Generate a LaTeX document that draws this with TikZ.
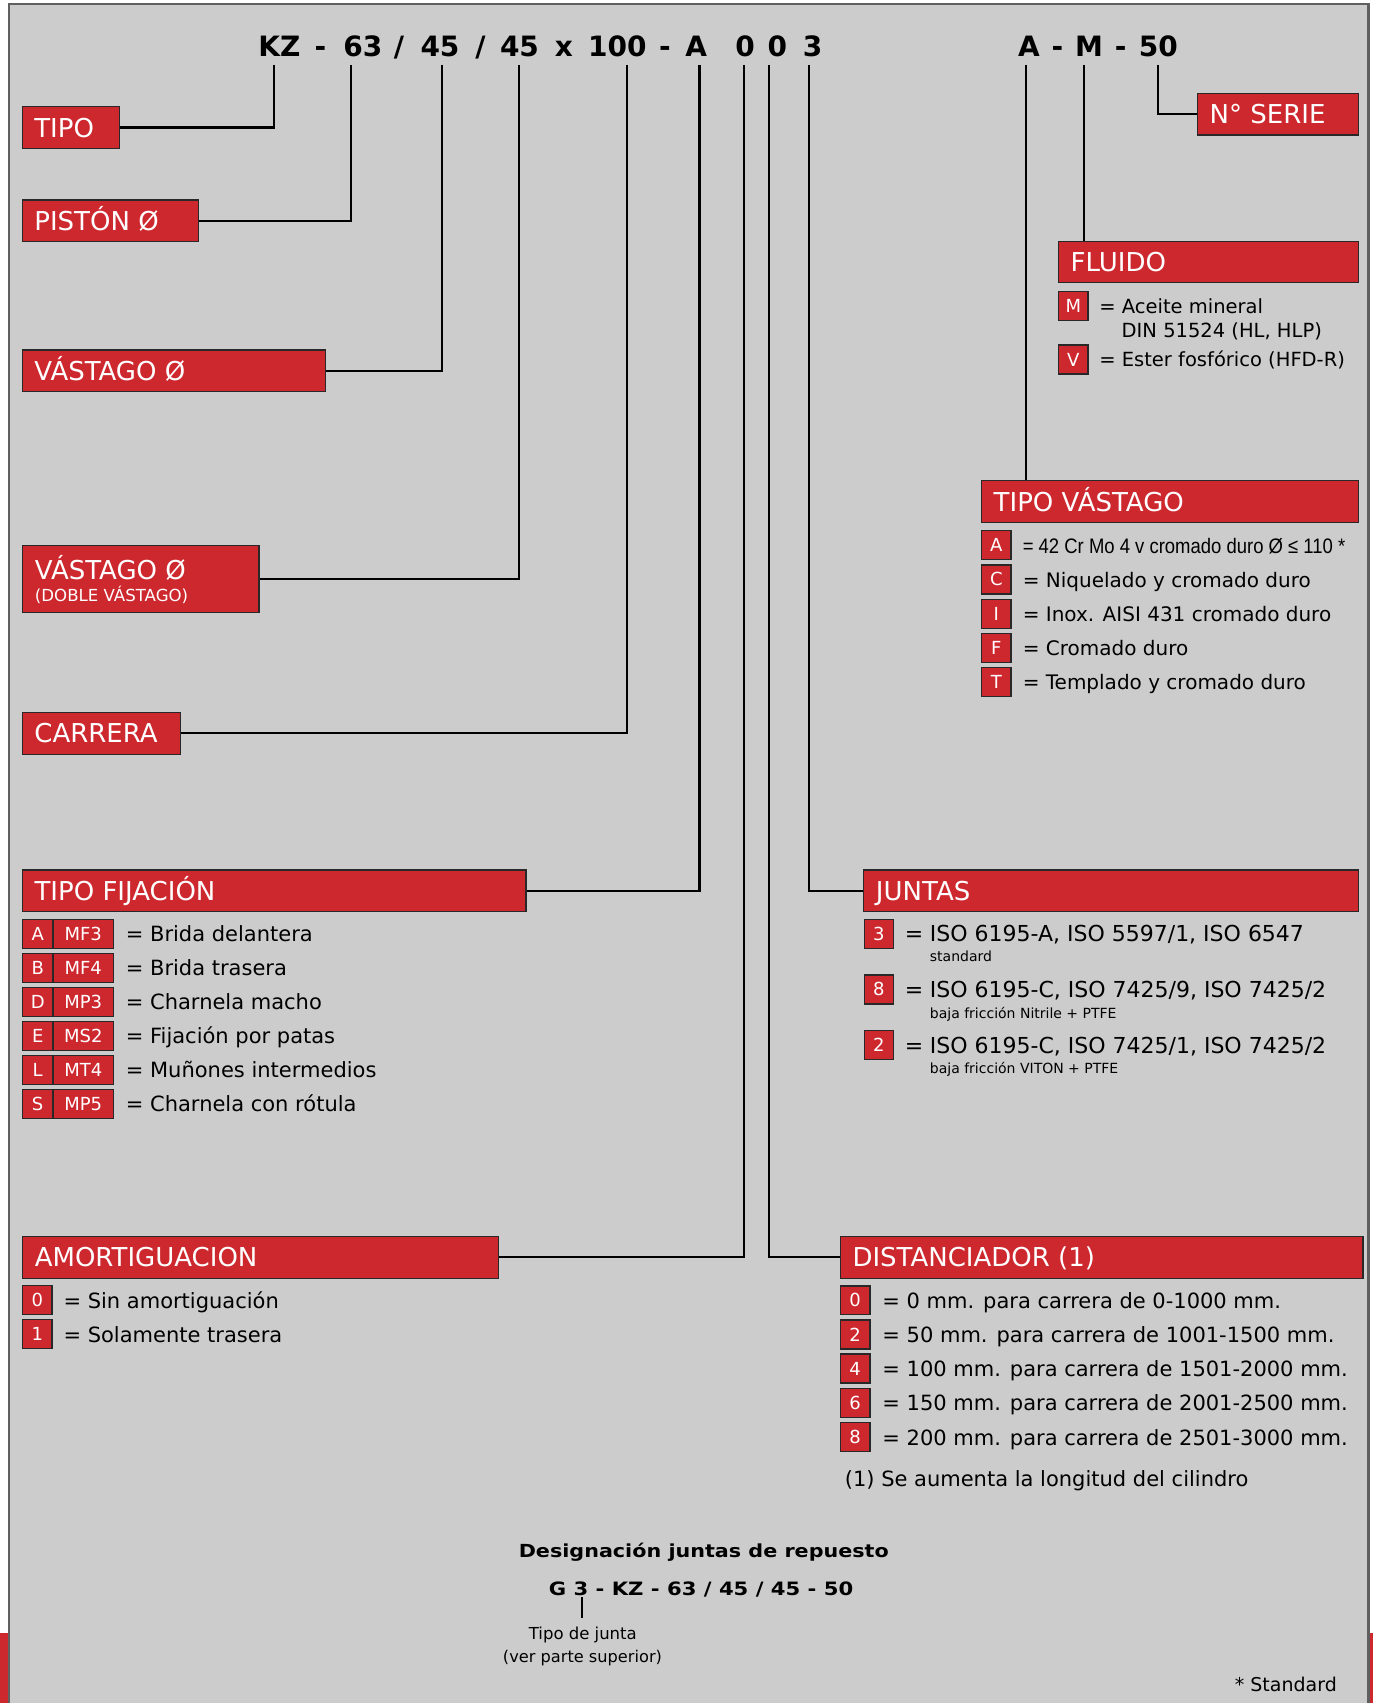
\documentclass[tikz,border=0pt]{standalone}
\usepackage{fontspec}
\setmainfont{DejaVu Sans}
\newfontfamily\libfont{Liberation Sans}[FakeStretch=0.88]
\newfontfamily\widefont{DejaVu Sans}[FakeStretch=1.15]
\usetikzlibrary{fit}
\definecolor{kred}{RGB}{206,40,47}
\definecolor{bgg}{RGB}{204,204,204}
\definecolor{framec}{RGB}{95,95,95}
\definecolor{edgec}{RGB}{40,40,40}
\newcommand\fs[1]{\fontsize{#1}{#1}\selectfont}
\begin{document}
\begin{tikzpicture}[x=1.0862pt,y=-1.0862pt,
  conn/.style={draw=black,line width=2.2pt},
  redbox/.style={draw=edgec,fill=kred,line width=1.2pt,inner sep=0pt},
  lbl/.style={text=white,font=\fs{26pt},inner sep=0pt,anchor=base west},
  key/.style={draw=edgec,fill=kred,line width=1.2pt,text=white,font=\fs{18pt},minimum width=29.5pt,minimum height=29pt,inner sep=0pt},
  keyw/.style={key,minimum width=60.7pt},
  itxt/.style={font=\fs{21pt},inner sep=0pt,anchor=base west},
  tok/.style={font=\fs{28pt}\bfseries,inner sep=0pt,anchor=base},
]
\useasboundingbox (0,0) rectangle (1264,1568);
% page and frame
\fill[white] (0,0) rectangle (1264,1568);
\fill[kred] (0,1503.4) rectangle (1264,1568);
\fill[bgg] (8.3,3.7) rectangle (1260,1568);
\draw[framec,line width=2.5pt] (8.3,1575) -- (8.3,3.7) -- (1260,3.7) -- (1260,1575);

% header tokens
\node[tok] (h1) at (257.3,51.6) {KZ};
\node[tok] (h2) at (295,51.6) {-};
\node[tok] (h3) at (334.2,51.6) {63};
\node[tok] (h4) at (367.3,51.6) {/};
\node[tok] (h5) at (405.1,51.6) {45};
\node[tok] (h6) at (442.4,51.6) {/};
\node[tok] (h7) at (478.3,51.6) {45};
\node[tok] (h8) at (519.2,51.6) {x};
\node[tok] (h9) at (568.5,51.6) {100};
\node[tok] (h10) at (612.2,51.6) {-};
\node[tok] (h11) at (641,51.6) {A};
\node[tok] (h12) at (686,51.6) {0};
\node[tok] (h13) at (715.8,51.6) {0};
\node[tok] (h14) at (748.3,51.6) {3};
\node[tok] (h15) at (947.3,51.6) {A};
\node[tok] (h16) at (973.5,51.6) {-};
\node[tok] (h17) at (1002.6,51.6) {M};
\node[tok] (h18) at (1031.9,51.6) {-};
\node[tok] (h19) at (1066.6,51.6) {50};

% line tops
\coordinate (tKZ) at (252.4,59.8);
\coordinate (t63) at (323,59.8);
\coordinate (t45a) at (406.9,59.8);
\coordinate (t45b) at (478,59.8);
\coordinate (t100) at (577.4,59.8);
\coordinate (tA) at (644,59.8);
\coordinate (t0a) at (685.3,59.8);
\coordinate (t0b) at (708.3,59.8);
\coordinate (t3) at (745.1,59.8);
\coordinate (tAv) at (944.5,59.8);
\coordinate (tM) at (998,59.8);
\coordinate (t50) at (1066,59.8);

% label boxes
\node[redbox,fit={(20.5,98.2) (109.7,136.6)}] (tipo) {};
\node[redbox,fit={(20.5,184.1) (182.9,222.5)}] (piston) {};
\node[redbox,fit={(20.5,322.2) (300,360.6)}] (vast) {};
\node[redbox,fit={(20.5,502.4) (238.4,564)}] (vastd) {};
\node[redbox,fit={(20.5,656) (166.5,694.5)}] (carrera) {};
\node[redbox,fit={(20.7,801) (484.3,839.3)}] (fij) {};
\node[redbox,fit={(20.9,1138.5) (458.8,1176.9)}] (amort) {};
\node[redbox,fit={(1102.6,85.9) (1251,124.3)}] (serie) {};
\node[redbox,fit={(974.7,222.5) (1251,260.2)}] (fluido) {};
\node[redbox,fit={(903.8,442.5) (1251,481.2)}] (tipov) {};
\node[redbox,fit={(795.4,801) (1251,839.3)}] (juntas) {};
\node[redbox,fit={(773.8,1138.5) (1255,1176.9)}] (dist) {};

\node[lbl] (tipoT) at ([xshift=12.5pt,yshift=-9.5pt]tipo.west) {TIPO};
\node[lbl] (pistonT) at ([xshift=12.5pt,yshift=-9.5pt]piston.west) {PISTÓN Ø};
\node[lbl] (vastT) at ([xshift=12.5pt,yshift=-9.5pt]vast.west) {VÁSTAGO Ø};
\node[lbl] (vastdT) at (32,534) {VÁSTAGO Ø};
\node[lbl,font=\fs{16.6pt}] (vastdS) at (32,553.5) {(DOBLE VÁSTAGO)};
\node[lbl] (carreraT) at ([xshift=12.5pt,yshift=-9.5pt]carrera.west) {CARRERA};
\node[lbl] (fijT) at ([xshift=12.5pt,yshift=-9.5pt]fij.west) {TIPO FIJACIÓN};
\node[lbl] (amortT) at ([xshift=12.5pt,yshift=-9.5pt]amort.west) {AMORTIGUACION};
\node[lbl] (serieT) at ([xshift=12.5pt,yshift=-9.5pt]serie.west) {N° SERIE};
\node[lbl] (fluidoT) at ([xshift=12.5pt,yshift=-9.5pt]fluido.west) {FLUIDO};
\node[lbl] (tipovT) at ([xshift=12.5pt,yshift=-9.5pt]tipov.west) {TIPO VÁSTAGO};
\node[lbl] (juntasT) at ([xshift=12.5pt,yshift=-9.5pt]juntas.west) {JUNTAS};
\node[lbl] (distT) at ([xshift=12.5pt,yshift=-9.5pt]dist.west) {DISTANCIADOR (1)};

% connectors
\draw[conn] (tKZ) |- (tipo.east);
\draw[conn] (t63) |- (piston.east);
\draw[conn] (t45a) |- (vast.east);
\draw[conn] (t45b) |- (vastd.east);
\draw[conn] (t100) |- (carrera.east);
\draw[conn] (tA) |- (fij.east);
\draw[conn] (t0a) |- (amort.east);
\draw[conn] (t0b) |- (dist.west);
\draw[conn] (t3) |- (juntas.west);
\draw[conn] (tAv) -- (tAv |- tipov.north);
\draw[conn] (tM) -- (tM |- fluido.north);
\draw[conn] (t50) |- (serie.west);

% FLUIDO
\node[key] (fM) at (988.2,281.9) {M};
\node[key] (fV) at (988.2,331) {V};
\node[itxt,font=\fs{19.5pt}] (fMt) at (1012,288.5) {= Aceite mineral};
\node[itxt,font=\fs{19.5pt}] (fMt2) at (1032.6,310.5) {DIN 51524 (HL, HLP)};
\node[itxt,font=\fs{19.5pt}] (fVt) at (1012,337.8) {= Ester fosfórico (HFD-R)};

% TIPO VASTAGO
\node[key] (vA) at (917.3,502.1) {A};
\node[key] (vC) at (917.3,533.5) {C};
\node[key] (vI) at (917.3,565) {I};
\node[key] (vF) at (917.3,596.3) {F};
\node[key] (vT) at (917.3,627.7) {T};
\node[itxt,font=\fs{21pt}\libfont] (vAt) at (941.5,509.6) {= 42 Cr Mo 4 v cromado duro Ø ≤ 110 *};
\node[itxt,font=\fs{20pt}] (vCt) at (941.5,541) {= Niquelado y cromado duro};
\node[itxt,font=\fs{20pt}] (vIt) at (941.5,572.5) {= Inox. AISI 431 cromado duro};
\node[itxt,font=\fs{20pt}] (vFt) at (941.5,603.8) {= Cromado duro};
\node[itxt,font=\fs{20pt}] (vTt) at (941.5,635.2) {= Templado y cromado duro};

% TIPO FIJACION
\node[key,minimum width=30.4pt] (jA) at (34.7,859.7) {A};
\node[keyw] (jA2) at (76.65,859.7) {MF3};
\node[key,minimum width=30.4pt] (jB) at (34.7,891) {B};
\node[keyw] (jB2) at (76.65,891) {MF4};
\node[key,minimum width=30.4pt] (jD) at (34.7,922.3) {D};
\node[keyw] (jD2) at (76.65,922.3) {MP3};
\node[key,minimum width=30.4pt] (jE) at (34.7,953.6) {E};
\node[keyw] (jE2) at (76.65,953.6) {MS2};
\node[key,minimum width=30.4pt] (jL) at (34.7,984.9) {L};
\node[keyw] (jL2) at (76.65,984.9) {MT4};
\node[key,minimum width=30.4pt] (jS) at (34.7,1016.2) {S};
\node[keyw] (jS2) at (76.65,1016.2) {MP5};
\node[itxt] (jAt) at (115.7,867.2) {= Brida delantera};
\node[itxt] (jBt) at (115.7,898.5) {= Brida trasera};
\node[itxt] (jDt) at (115.7,929.8) {= Charnela macho};
\node[itxt] (jEt) at (115.7,961.1) {= Fijación por patas};
\node[itxt] (jLt) at (115.7,992.4) {= Muñones intermedios};
\node[itxt] (jSt) at (115.7,1023.7) {= Charnela con rótula};

% AMORTIGUACION
\node[key] (a0) at (34.3,1197.2) {0};
\node[key] (a1) at (34.3,1228.3) {1};
\node[itxt] (a0t) at (58.3,1204.7) {= Sin amortiguación};
\node[itxt] (a1t) at (58.3,1235.8) {= Solamente trasera};

% JUNTAS
\node[key] (u3) at (809.2,859.7) {3};
\node[key] (u8) at (809.2,911) {8};
\node[key] (u2) at (809.2,962.4) {2};
\node[itxt,font=\fs{22pt}] (u3e) at (833,867) {=};
\node[itxt,font=\fs{22pt}] (u3t) at (856,867) {ISO 6195-A, ISO 5597/1, ISO 6547};
\node[itxt,font=\fs{14pt}] (u3s) at (856,885.4) {standard};
\node[itxt,font=\fs{22pt}] (u8e) at (833,918.3) {=};
\node[itxt,font=\fs{22pt}] (u8t) at (856,918.3) {ISO 6195-C, ISO 7425/9, ISO 7425/2};
\node[itxt,font=\fs{14pt}] (u8s) at (856,937.5) {baja fricción Nitrile + PTFE};
\node[itxt,font=\fs{22pt}] (u2e) at (833,969.7) {=};
\node[itxt,font=\fs{22pt}] (u2t) at (856,969.7) {ISO 6195-C, ISO 7425/1, ISO 7425/2};
\node[itxt,font=\fs{14pt}] (u2s) at (856,988.1) {baja fricción VITON + PTFE};

% DISTANCIADOR
\node[key] (d0) at (787.4,1197.3) {0};
\node[key] (d2) at (787.4,1228.7) {2};
\node[key] (d4) at (787.4,1260) {4};
\node[key] (d6) at (787.4,1291.5) {6};
\node[key] (d8) at (787.4,1323) {8};
\node[itxt] (d0t) at (812.3,1204.8) {= 0 mm. para carrera de 0-1000 mm.};
\node[itxt] (d2t) at (812.3,1236.2) {= 50 mm. para carrera de 1001-1500 mm.};
\node[itxt] (d4t) at (812.3,1267.5) {= 100 mm. para carrera de 1501-2000 mm.};
\node[itxt] (d6t) at (812.3,1299) {= 150 mm. para carrera de 2001-2500 mm.};
\node[itxt] (d8t) at (812.3,1330.5) {= 200 mm. para carrera de 2501-3000 mm.};
\node[itxt] (dnote) at (777.7,1368.7) {(1) Se aumenta la longitud del cilindro};

% bottom
\node[inner sep=0pt,anchor=base,font=\fs{18pt}\widefont\bfseries] (rep) at (648,1433.7) {Designación juntas de repuesto};
\node[inner sep=0pt,anchor=base,font=\fs{18.4pt}\widefont\bfseries] (gcode) at (645.5,1469.3) {G 3 - KZ - 63 / 45 / 45 - 50};
\coordinate (g3) at (535.5,1470.5);
\node[inner sep=0pt,anchor=base,font=\fs{16.5pt}] (tipoj) at (536.6,1509.9) {Tipo de junta};
\node[inner sep=0pt,anchor=base,font=\fs{16.2pt}] (verps) at (536.3,1530.5) {(ver parte superior)};
\draw[black,line width=2pt,shorten >=9.5pt] (g3) -- (g3 |- tipoj.north);
\node[inner sep=0pt,anchor=base east,font=\fs{19pt}] (std) at (1231,1557.6) {* Standard};
\end{tikzpicture}
\end{document}
